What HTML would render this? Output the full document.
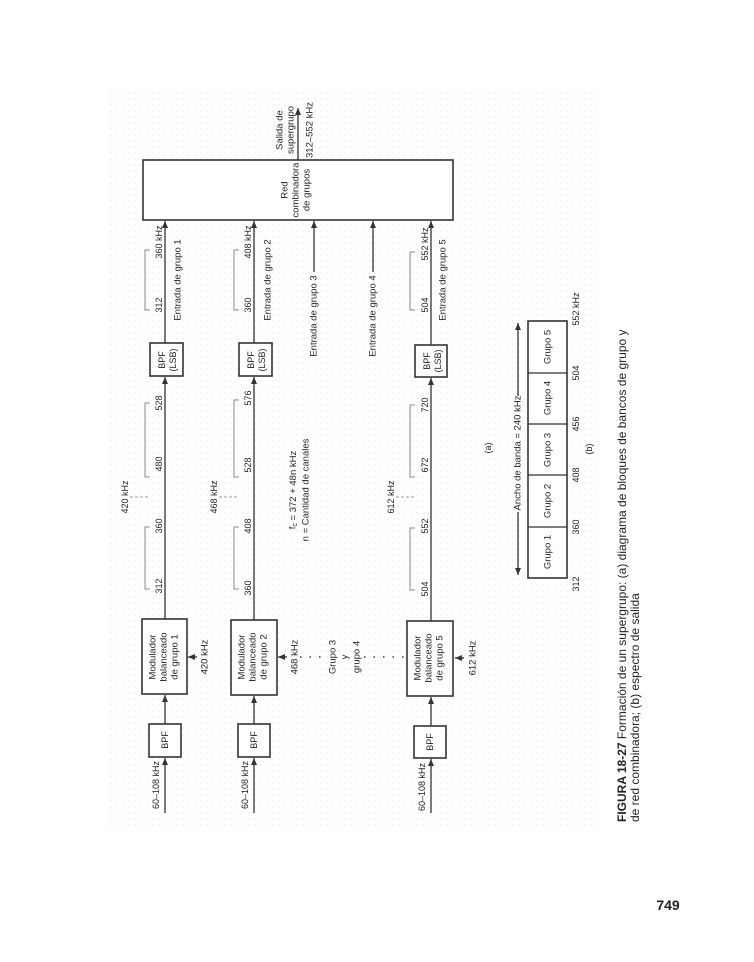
<!DOCTYPE html>
<html><head><meta charset="utf-8"><style>
html,body{margin:0;padding:0;background:#fff;}
svg{display:block;font-family:"Liberation Sans",Arial,sans-serif;}
.t{font-size:9.5px;fill:#222;text-anchor:middle;dominant-baseline:central;}
.s{font-size:9px;}
.box{fill:#fff;stroke:#333;stroke-width:1.6;}
.ln{stroke:#333;stroke-width:1.3;fill:none;}
.br{stroke:#888;stroke-width:1;fill:none;}
</style></head><body>
<svg width="754" height="962" viewBox="0 0 754 962">
<defs>
<marker id="a" markerWidth="8" markerHeight="8" refX="7" refY="4" orient="auto" markerUnits="userSpaceOnUse"><path d="M0,1 L7,4 L0,7 Z" fill="#333"/></marker>
<pattern id="dots" width="6" height="6" patternUnits="userSpaceOnUse"><circle cx="3" cy="3" r="0.6" fill="#e6dcdc"/></pattern>
</defs>
<rect x="110" y="90" width="490" height="740" fill="url(#dots)"/>

<rect class="box" x="143" y="160" width="310" height="60"/>
<line class="ln" x1="298" y1="160" x2="298" y2="108" marker-end="url(#a)"/>
<text class="t" transform="translate(280,130) rotate(-90)">Salida de</text>
<text class="t" transform="translate(291,130) rotate(-90)">supergrupo</text>
<text class="t" transform="translate(310,130) rotate(-90)">312–552 kHz</text>
<text class="t" transform="translate(285,190) rotate(-90)">Red</text>
<text class="t" transform="translate(296,190) rotate(-90)">combinadora</text>
<text class="t" transform="translate(307,190) rotate(-90)">de grupos</text>

<line class="ln" x1="314" y1="272" x2="314" y2="221" marker-end="url(#a)"/>
<text class="t" transform="translate(314,316) rotate(-90)">Entrada de grupo 3</text>
<line class="ln" x1="373" y1="272" x2="373" y2="221" marker-end="url(#a)"/>
<text class="t" transform="translate(373,316) rotate(-90)">Entrada de grupo 4</text>

<g>
<line class="ln" x1="165" y1="813" x2="165" y2="758" marker-end="url(#a)"/>
<rect class="box" x="149" y="724" width="32" height="33"/>
<text class="t s" transform="translate(165,740) rotate(-90)">BPF</text>
<line class="ln" x1="165" y1="724" x2="165" y2="695" marker-end="url(#a)"/>
<rect class="box" x="142" y="619" width="45" height="75"/>
<text class="t" transform="translate(153,657) rotate(-90)">Modulador</text>
<text class="t" transform="translate(164,657) rotate(-90)">balanceado</text>
<text class="t" transform="translate(175,657) rotate(-90)">de grupo 1</text>
<line class="ln" x1="197" y1="657" x2="188" y2="657" marker-end="url(#a)"/>
<text class="t" transform="translate(205,657) rotate(-90)">420 kHz</text>
<line class="ln" x1="165" y1="619" x2="165" y2="377" marker-end="url(#a)"/>
<rect class="box" x="150" y="343" width="33" height="33"/>
<text class="t s" transform="translate(162,360) rotate(-90)">BPF</text>
<text class="t s" transform="translate(173,360) rotate(-90)">(LSB)</text>
<line class="ln" x1="165" y1="343" x2="165" y2="221" marker-end="url(#a)"/>
<text class="t" transform="translate(178,280) rotate(-90)">Entrada de grupo 1</text>
<path class="br" d="M150,527 H145 V589 H150"/>
<text class="t s" transform="translate(159,526) rotate(-90)">360</text>
<text class="t s" transform="translate(159,586) rotate(-90)">312</text>
<path class="br" d="M150,403 H145 V477 H150"/>
<text class="t s" transform="translate(159,403) rotate(-90)">528</text>
<text class="t s" transform="translate(159,464) rotate(-90)">480</text>
<path class="br" d="M150,250 H145 V310 H150"/>
<text class="t s" transform="translate(159,242) rotate(-90)">360 kHz</text>
<text class="t s" transform="translate(159,305) rotate(-90)">312</text>
<line x1="130" y1="497" x2="150" y2="497" stroke="#999" stroke-dasharray="3,2"/>
<text class="t s" transform="translate(125,497) rotate(-90)">420 kHz</text>
</g>

<g>
<line class="ln" x1="254" y1="813" x2="254" y2="758" marker-end="url(#a)"/>
<rect class="box" x="238" y="724" width="32" height="33"/>
<text class="t s" transform="translate(254,740) rotate(-90)">BPF</text>
<line class="ln" x1="254" y1="724" x2="254" y2="696" marker-end="url(#a)"/>
<rect class="box" x="231" y="620" width="46" height="75"/>
<text class="t" transform="translate(242,657) rotate(-90)">Modulador</text>
<text class="t" transform="translate(253,657) rotate(-90)">balanceado</text>
<text class="t" transform="translate(264,657) rotate(-90)">de grupo 2</text>
<line class="ln" x1="287" y1="657" x2="278" y2="657" marker-end="url(#a)"/>
<text class="t" transform="translate(295,657) rotate(-90)">468 kHz</text>
<line class="ln" x1="254" y1="620" x2="254" y2="377" marker-end="url(#a)"/>
<rect class="box" x="239" y="343" width="33" height="33"/>
<text class="t s" transform="translate(251,360) rotate(-90)">BPF</text>
<text class="t s" transform="translate(262,360) rotate(-90)">(LSB)</text>
<line class="ln" x1="254" y1="343" x2="254" y2="221" marker-end="url(#a)"/>
<text class="t" transform="translate(268,280) rotate(-90)">Entrada de grupo 2</text>
<path class="br" d="M239,527 H234 V589 H239"/>
<text class="t s" transform="translate(248,526) rotate(-90)">408</text>
<text class="t s" transform="translate(248,588) rotate(-90)">360</text>
<path class="br" d="M239,400 H234 V477 H239"/>
<text class="t s" transform="translate(248,398) rotate(-90)">576</text>
<text class="t s" transform="translate(248,465) rotate(-90)">528</text>
<path class="br" d="M239,250 H234 V310 H239"/>
<text class="t s" transform="translate(248,242) rotate(-90)">408 kHz</text>
<text class="t s" transform="translate(248,305) rotate(-90)">360</text>
<line x1="219" y1="497" x2="239" y2="497" stroke="#999" stroke-dasharray="3,2"/>
<text class="t s" transform="translate(214,497) rotate(-90)">468 kHz</text>
</g>

<g>
<line class="ln" x1="431" y1="813" x2="431" y2="759" marker-end="url(#a)"/>
<rect class="box" x="414" y="726" width="32" height="32"/>
<text class="t s" transform="translate(430,742) rotate(-90)">BPF</text>
<line class="ln" x1="431" y1="726" x2="431" y2="697" marker-end="url(#a)"/>
<rect class="box" x="407" y="621" width="46" height="75"/>
<text class="t" transform="translate(418,658) rotate(-90)">Modulador</text>
<text class="t" transform="translate(429,658) rotate(-90)">balanceado</text>
<text class="t" transform="translate(440,658) rotate(-90)">de grupo 5</text>
<line class="ln" x1="464" y1="658" x2="455" y2="658" marker-end="url(#a)"/>
<text class="t" transform="translate(473,658) rotate(-90)">612 kHz</text>
<line class="ln" x1="431" y1="621" x2="431" y2="378" marker-end="url(#a)"/>
<rect class="box" x="415" y="345" width="32" height="32"/>
<text class="t s" transform="translate(427,361) rotate(-90)">BPF</text>
<text class="t s" transform="translate(438,361) rotate(-90)">(LSB)</text>
<line class="ln" x1="431" y1="345" x2="431" y2="221" marker-end="url(#a)"/>
<text class="t" transform="translate(443,280) rotate(-90)">Entrada de grupo 5</text>
<path class="br" d="M415,528 H410 V590 H415"/>
<text class="t s" transform="translate(425,526) rotate(-90)">552</text>
<text class="t s" transform="translate(425,589) rotate(-90)">504</text>
<path class="br" d="M415,405 H410 V477 H415"/>
<text class="t s" transform="translate(425,405) rotate(-90)">720</text>
<text class="t s" transform="translate(425,465) rotate(-90)">672</text>
<path class="br" d="M415,252 H410 V310 H415"/>
<text class="t s" transform="translate(425,244) rotate(-90)">552 kHz</text>
<text class="t s" transform="translate(425,305) rotate(-90)">504</text>
<line x1="396" y1="497" x2="416" y2="497" stroke="#999" stroke-dasharray="3,2"/>
<text class="t s" transform="translate(391,497) rotate(-90)">612 kHz</text>
</g>

<text class="t s" transform="translate(156,785) rotate(-90)">60–108 kHz</text>
<text class="t s" transform="translate(245,785) rotate(-90)">60–108 kHz</text>
<text class="t s" transform="translate(422,787) rotate(-90)">60–108 kHz</text>

<line x1="300" y1="657" x2="322" y2="657" stroke="#444" stroke-width="1.5" stroke-dasharray="1.5,8"/>
<line x1="364" y1="657" x2="404" y2="657" stroke="#444" stroke-width="1.5" stroke-dasharray="1.5,8"/>
<text class="t" transform="translate(333,657) rotate(-90)">Grupo 3</text>
<text class="t" transform="translate(345,657) rotate(-90)">y</text>
<text class="t" transform="translate(357,657) rotate(-90)">grupo 4</text>

<text class="t" transform="translate(293,490) rotate(-90)">f<tspan font-size="7" dy="2">c</tspan><tspan dy="-2"> = 372 + 48n kHz</tspan></text>
<text class="t" transform="translate(306,490) rotate(-90)">n = Cantidad de canales</text>

<text class="t s" transform="translate(488,448) rotate(-90)">(a)</text>

<line class="ln" x1="518" y1="396" x2="518" y2="323" marker-end="url(#a)"/>
<line class="ln" x1="518" y1="512" x2="518" y2="575" marker-end="url(#a)"/>
<text class="t" transform="translate(518,453) rotate(-90)">Ancho de banda = 240 kHz</text>
<rect class="box" x="528" y="321" width="39" height="257"/>
<line class="ln" x1="528" y1="373" x2="567" y2="373"/>
<line class="ln" x1="528" y1="424" x2="567" y2="424"/>
<line class="ln" x1="528" y1="475" x2="567" y2="475"/>
<line class="ln" x1="528" y1="527" x2="567" y2="527"/>
<text class="t" transform="translate(548,552) rotate(-90)">Grupo 1</text>
<text class="t" transform="translate(548,501) rotate(-90)">Grupo 2</text>
<text class="t" transform="translate(548,450) rotate(-90)">Grupo 3</text>
<text class="t" transform="translate(548,398) rotate(-90)">Grupo 4</text>
<text class="t" transform="translate(548,347) rotate(-90)">Grupo 5</text>
<text class="t s" transform="translate(576,584) rotate(-90)">312</text>
<text class="t s" transform="translate(576,527) rotate(-90)">360</text>
<text class="t s" transform="translate(576,475) rotate(-90)">408</text>
<text class="t s" transform="translate(576,424) rotate(-90)">456</text>
<text class="t s" transform="translate(576,373) rotate(-90)">504</text>
<text class="t s" transform="translate(576,309) rotate(-90)">552 kHz</text>
<text class="t s" transform="translate(589,449) rotate(-90)">(b)</text>

<text transform="translate(622,822) rotate(-90)" font-size="12" fill="#222" dominant-baseline="central"><tspan font-weight="bold">FIGURA 18-27</tspan>  Formación de un supergrupo: (a) diagrama de bloques de bancos de grupo y</text>
<text transform="translate(635,822) rotate(-90)" font-size="12" fill="#222" dominant-baseline="central">de red combinadora; (b) espectro de salida</text>

<text x="668" y="910" font-size="14" font-weight="bold" fill="#222" text-anchor="middle">749</text>
</svg>
</body></html>
